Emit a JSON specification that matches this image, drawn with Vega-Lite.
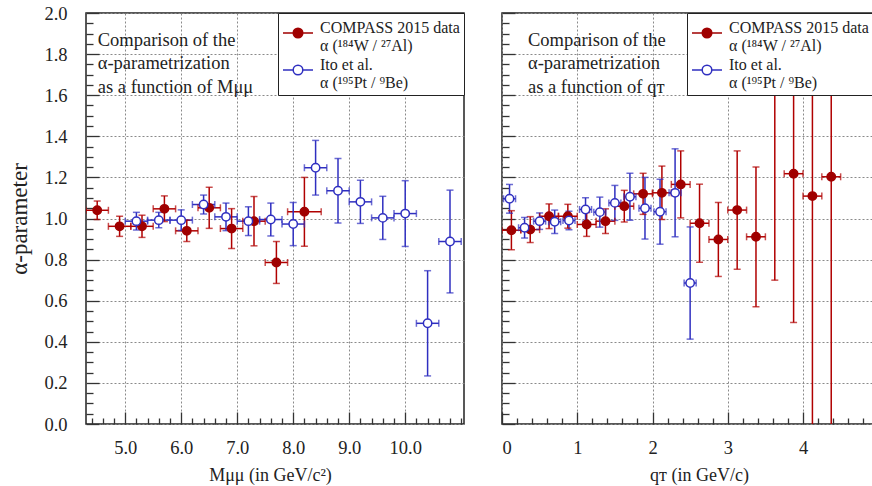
{
  "$schema": "https://vega.github.io/schema/vega-lite/v6.json",
  "padding": {"left": 8, "top": 3, "right": 0, "bottom": 0},
  "background": "white",
  "config": {
    "font": "Liberation Serif",
    "view": {"stroke": "#222222", "strokeWidth": 1.5},
    "concat": {"spacing": 34},
    "axis": {
      "domain": false,
      "labelFont": "Liberation Serif",
      "labelFontSize": 18.5,
      "labelColor": "#222222",
      "titleFont": "Liberation Serif",
      "titleFontWeight": "normal",
      "titleColor": "#222222",
      "tickColor": "#333333",
      "tickWidth": 1.3,
      "gridColor": "#8a8a8a",
      "gridDash": [2, 2],
      "gridWidth": 1
    }
  },
  "datasets": {
    "mass": [
      {"series": "COMPASS", "x": 4.5, "xlo": 4.3, "xhi": 4.7, "y": 1.04, "ylo": 0.995, "yhi": 1.085},
      {"series": "COMPASS", "x": 4.9, "xlo": 4.7, "xhi": 5.1, "y": 0.962, "ylo": 0.913, "yhi": 1.011},
      {"series": "COMPASS", "x": 5.3, "xlo": 5.1, "xhi": 5.5, "y": 0.962, "ylo": 0.908, "yhi": 1.016},
      {"series": "COMPASS", "x": 5.7, "xlo": 5.5, "xhi": 5.9, "y": 1.047, "ylo": 0.985, "yhi": 1.11},
      {"series": "COMPASS", "x": 6.1, "xlo": 5.9, "xhi": 6.3, "y": 0.94, "ylo": 0.888, "yhi": 0.992},
      {"series": "COMPASS", "x": 6.5, "xlo": 6.3, "xhi": 6.7, "y": 1.052, "ylo": 0.952, "yhi": 1.152},
      {"series": "COMPASS", "x": 6.9, "xlo": 6.7, "xhi": 7.1, "y": 0.951, "ylo": 0.854, "yhi": 1.048},
      {"series": "COMPASS", "x": 7.3, "xlo": 7.1, "xhi": 7.5, "y": 0.987, "ylo": 0.867, "yhi": 1.107},
      {"series": "COMPASS", "x": 7.7, "xlo": 7.5, "xhi": 7.9, "y": 0.786, "ylo": 0.684, "yhi": 0.888},
      {"series": "COMPASS", "x": 8.2, "xlo": 7.9, "xhi": 8.5, "y": 1.033, "ylo": 0.865, "yhi": 1.2},
      {"series": "Ito", "x": 5.2, "xlo": 5.0, "xhi": 5.4, "y": 0.987, "ylo": 0.944, "yhi": 1.03},
      {"series": "Ito", "x": 5.6, "xlo": 5.4, "xhi": 5.8, "y": 0.992, "ylo": 0.955, "yhi": 1.03},
      {"series": "Ito", "x": 6.0, "xlo": 5.8, "xhi": 6.2, "y": 0.992, "ylo": 0.942, "yhi": 1.042},
      {"series": "Ito", "x": 6.4, "xlo": 6.2, "xhi": 6.6, "y": 1.068, "ylo": 1.022, "yhi": 1.114},
      {"series": "Ito", "x": 6.8, "xlo": 6.6, "xhi": 7.0, "y": 1.008, "ylo": 0.941, "yhi": 1.075},
      {"series": "Ito", "x": 7.2, "xlo": 7.0, "xhi": 7.4, "y": 0.987, "ylo": 0.917, "yhi": 1.057},
      {"series": "Ito", "x": 7.6, "xlo": 7.4, "xhi": 7.8, "y": 0.995, "ylo": 0.915, "yhi": 1.075},
      {"series": "Ito", "x": 8.0, "xlo": 7.8, "xhi": 8.2, "y": 0.973, "ylo": 0.868, "yhi": 1.078},
      {"series": "Ito", "x": 8.4, "xlo": 8.2, "xhi": 8.6, "y": 1.247, "ylo": 1.114, "yhi": 1.38},
      {"series": "Ito", "x": 8.8, "xlo": 8.6, "xhi": 9.0, "y": 1.135, "ylo": 0.978, "yhi": 1.292},
      {"series": "Ito", "x": 9.2, "xlo": 9.0, "xhi": 9.4, "y": 1.081, "ylo": 0.976, "yhi": 1.186},
      {"series": "Ito", "x": 9.6, "xlo": 9.4, "xhi": 9.8, "y": 1.003, "ylo": 0.898, "yhi": 1.108},
      {"series": "Ito", "x": 10.0, "xlo": 9.8, "xhi": 10.2, "y": 1.024, "ylo": 0.864, "yhi": 1.184},
      {"series": "Ito", "x": 10.4, "xlo": 10.2, "xhi": 10.6, "y": 0.49, "ylo": 0.234, "yhi": 0.746},
      {"series": "Ito", "x": 10.8, "xlo": 10.6, "xhi": 11.0, "y": 0.888, "ylo": 0.638, "yhi": 1.138}
    ],
    "qt": [
      {"series": "COMPASS", "x": 0.125, "xlo": 0.0, "xhi": 0.25, "y": 0.943, "ylo": 0.848, "yhi": 1.038},
      {"series": "COMPASS", "x": 0.375, "xlo": 0.25, "xhi": 0.5, "y": 0.946, "ylo": 0.883, "yhi": 1.009},
      {"series": "COMPASS", "x": 0.625, "xlo": 0.5, "xhi": 0.75, "y": 1.011, "ylo": 0.951, "yhi": 1.071},
      {"series": "COMPASS", "x": 0.875, "xlo": 0.75, "xhi": 1.0, "y": 1.011, "ylo": 0.953, "yhi": 1.069},
      {"series": "COMPASS", "x": 1.125, "xlo": 1.0, "xhi": 1.25, "y": 0.971, "ylo": 0.913, "yhi": 1.029},
      {"series": "COMPASS", "x": 1.375, "xlo": 1.25, "xhi": 1.5, "y": 0.987, "ylo": 0.927, "yhi": 1.047},
      {"series": "COMPASS", "x": 1.625, "xlo": 1.5, "xhi": 1.75, "y": 1.06, "ylo": 0.983, "yhi": 1.137},
      {"series": "COMPASS", "x": 1.875, "xlo": 1.75, "xhi": 2.0, "y": 1.12, "ylo": 1.02, "yhi": 1.22},
      {"series": "COMPASS", "x": 2.125, "xlo": 2.0, "xhi": 2.25, "y": 1.125, "ylo": 0.995, "yhi": 1.255},
      {"series": "COMPASS", "x": 2.375, "xlo": 2.25, "xhi": 2.5, "y": 1.166, "ylo": 1.003, "yhi": 1.329},
      {"series": "COMPASS", "x": 2.625, "xlo": 2.5, "xhi": 2.75, "y": 0.977, "ylo": 0.787, "yhi": 1.167},
      {"series": "COMPASS", "x": 2.875, "xlo": 2.75, "xhi": 3.0, "y": 0.898, "ylo": 0.718, "yhi": 1.078},
      {"series": "COMPASS", "x": 3.125, "xlo": 3.0, "xhi": 3.25, "y": 1.041, "ylo": 0.753, "yhi": 1.329},
      {"series": "COMPASS", "x": 3.375, "xlo": 3.25, "xhi": 3.5, "y": 0.911, "ylo": 0.571, "yhi": 1.251},
      {"series": "COMPASS", "x": 3.625, "xlo": 3.5, "xhi": 3.75, "y": 1.8, "ylo": 0.7, "yhi": 2.9},
      {"series": "COMPASS", "x": 3.875, "xlo": 3.75, "xhi": 4.0, "y": 1.218, "ylo": 0.494, "yhi": 1.942},
      {"series": "COMPASS", "x": 4.125, "xlo": 4.0, "xhi": 4.25, "y": 1.109, "ylo": -0.2, "yhi": 2.4},
      {"series": "COMPASS", "x": 4.375, "xlo": 4.25, "xhi": 4.5, "y": 1.203, "ylo": -0.2, "yhi": 2.6},
      {"series": "Ito", "x": 0.1, "xlo": 0.02, "xhi": 0.18, "y": 1.096, "ylo": 1.026, "yhi": 1.166},
      {"series": "Ito", "x": 0.3, "xlo": 0.22, "xhi": 0.38, "y": 0.955, "ylo": 0.905, "yhi": 1.005},
      {"series": "Ito", "x": 0.5, "xlo": 0.42, "xhi": 0.58, "y": 0.987, "ylo": 0.947, "yhi": 1.027},
      {"series": "Ito", "x": 0.7, "xlo": 0.62, "xhi": 0.78, "y": 0.984, "ylo": 0.927, "yhi": 1.041},
      {"series": "Ito", "x": 0.89, "xlo": 0.81, "xhi": 0.97, "y": 0.99, "ylo": 0.945, "yhi": 1.035},
      {"series": "Ito", "x": 1.11, "xlo": 1.03, "xhi": 1.19, "y": 1.044, "ylo": 0.987, "yhi": 1.101},
      {"series": "Ito", "x": 1.3, "xlo": 1.22, "xhi": 1.38, "y": 1.031, "ylo": 0.958, "yhi": 1.104},
      {"series": "Ito", "x": 1.5, "xlo": 1.42, "xhi": 1.58, "y": 1.076, "ylo": 0.991, "yhi": 1.161},
      {"series": "Ito", "x": 1.7, "xlo": 1.62, "xhi": 1.78, "y": 1.106, "ylo": 0.992, "yhi": 1.22},
      {"series": "Ito", "x": 1.9, "xlo": 1.82, "xhi": 1.98, "y": 1.05, "ylo": 0.9, "yhi": 1.2},
      {"series": "Ito", "x": 2.1, "xlo": 2.02, "xhi": 2.18, "y": 1.033, "ylo": 0.875, "yhi": 1.191},
      {"series": "Ito", "x": 2.3, "xlo": 2.22, "xhi": 2.38, "y": 1.125, "ylo": 0.911, "yhi": 1.339},
      {"series": "Ito", "x": 2.5, "xlo": 2.42, "xhi": 2.58, "y": 0.686, "ylo": 0.413, "yhi": 0.959}
    ]
  },
  "resolve": {"scale": {"color": "independent", "stroke": "independent", "fill": "independent"}},
  "hconcat": [
    {
      "width": 378,
      "height": 411,
      "data": {"name": "mass"},
      "resolve": {"axis": {"x": "independent", "y": "independent"}},
      "layer": [
        {
          "mark": {"type": "rule", "clip": true, "strokeWidth": 1.5},
          "encoding": {
            "x": {"field": "xlo", "type": "quantitative", "scale": {"domain": [4.3, 11.05], "nice": false, "zero": false},
              "axis": {"orient": "bottom", "values": [5, 6, 7, 8, 9, 10], "format": ".1f", "grid": true, "ticks": false, "labelPadding": 14, "title": "Mμμ (in GeV/c²)", "titleFontSize": 18, "titlePadding": 10, "titleX": 184}},
            "x2": {"field": "xhi"},
            "y": {"field": "y", "type": "quantitative", "scale": {"domain": [0, 2], "nice": false, "zero": false},
              "axis": {"orient": "left", "values": [0, 0.2, 0.4, 0.6, 0.8, 1.0, 1.2, 1.4, 1.6, 1.8, 2.0], "format": ".1f", "grid": true, "ticks": false, "labelPadding": 19, "title": "α-parameter", "titleFontSize": 23, "titlePadding": 12}},
            "color": {"field": "series", "type": "nominal", "scale": {"range": ["#b00000", "#2f2fc0"]}, "legend": null}
          }
        },
        {
          "mark": {"type": "rule", "clip": true, "strokeWidth": 1.5},
          "encoding": {
            "x": {"field": "x", "type": "quantitative",
              "axis": {"orient": "bottom", "values": [4.4, 4.6, 4.8, 5.2, 5.4, 5.6, 5.8, 6.2, 6.4, 6.6, 6.8, 7.2, 7.4, 7.6, 7.8, 8.2, 8.4, 8.6, 8.8, 9.2, 9.4, 9.6, 9.8, 10.2, 10.4, 10.6, 10.8, 11.0], "labels": false, "grid": false, "tickSize": -6, "title": null}},
            "y": {"field": "ylo", "type": "quantitative",
              "axis": {"orient": "left", "values": [0.05, 0.1, 0.15, 0.25, 0.3, 0.35, 0.45, 0.5, 0.55, 0.65, 0.7, 0.75, 0.85, 0.9, 0.95, 1.05, 1.1, 1.15, 1.25, 1.3, 1.35, 1.45, 1.5, 1.55, 1.65, 1.7, 1.75, 1.85, 1.9, 1.95], "labels": false, "grid": false, "tickSize": -7, "title": null}},
            "y2": {"field": "yhi"},
            "color": {"field": "series", "type": "nominal", "legend": null}
          }
        },
        {
          "mark": {"type": "tick", "clip": true, "orient": "horizontal", "size": 7, "thickness": 1.5},
          "encoding": {
            "x": {"field": "x", "type": "quantitative",
              "axis": {"orient": "bottom", "values": [5, 6, 7, 8, 9, 10], "labels": false, "grid": false, "tickSize": -12, "title": null}},
            "y": {"field": "ylo", "type": "quantitative",
              "axis": {"orient": "left", "values": [0, 0.2, 0.4, 0.6, 0.8, 1.0, 1.2, 1.4, 1.6, 1.8, 2.0], "labels": false, "grid": false, "tickSize": -13, "title": null}},
            "color": {"field": "series", "type": "nominal", "legend": null}
          }
        },
        {
          "mark": {"type": "tick", "clip": true, "orient": "horizontal", "size": 7, "thickness": 1.5},
          "encoding": {
            "x": {"field": "x", "type": "quantitative", "axis": null},
            "y": {"field": "yhi", "type": "quantitative", "axis": null},
            "color": {"field": "series", "type": "nominal", "legend": null}
          }
        },
        {
          "mark": {"type": "tick", "clip": true, "orient": "vertical", "size": 7, "thickness": 1.5},
          "encoding": {
            "x": {"field": "xlo", "type": "quantitative", "axis": null},
            "y": {"field": "y", "type": "quantitative", "axis": null},
            "color": {"field": "series", "type": "nominal", "legend": null}
          }
        },
        {
          "mark": {"type": "tick", "clip": true, "orient": "vertical", "size": 7, "thickness": 1.5},
          "encoding": {
            "x": {"field": "xhi", "type": "quantitative", "axis": null},
            "y": {"field": "y", "type": "quantitative", "axis": null},
            "color": {"field": "series", "type": "nominal", "legend": null}
          }
        },
        {
          "mark": {"type": "point", "shape": "circle", "filled": true, "size": 70, "strokeWidth": 1.5, "opacity": 1, "clip": true},
          "encoding": {
            "x": {"field": "x", "type": "quantitative", "axis": null},
            "y": {"field": "y", "type": "quantitative", "axis": null},
            "fill": {"field": "series", "type": "nominal", "scale": {"domain": ["COMPASS", "Ito"], "range": ["#a00000", "white"]},
              "legend": {"title": null, "orient": "top-right", "offset": 0, "fillColor": "white", "strokeColor": "#222222", "padding": 4, "cornerRadius": 0,
                "labelFont": "Liberation Serif", "labelFontSize": 16, "labelColor": "#222222", "labelLimit": 0, "labelOffset": 6, "labelBaseline": "alphabetic",
                "symbolType": "M-1,0H-0.32M0.32,0H1M-0.32,0A0.32,0.32 0 1,1 0.32,0A0.32,0.32 0 1,1 -0.32,0Z", "symbolSize": 900, "symbolStrokeWidth": 1.5, "rowPadding": 0,
                "labelExpr": "datum.value == 'COMPASS' ? ['COMPASS 2015 data', 'α (¹⁸⁴W / ²⁷Al)'] : ['Ito et al.', 'α (¹⁹⁵Pt / ⁹Be)']"
              }
            },
            "stroke": {"field": "series", "type": "nominal", "scale": {"domain": ["COMPASS", "Ito"], "range": ["#a00000", "#2f2fc0"]},
              "legend": {"title": null, "orient": "top-right", "offset": 0, "fillColor": "white", "strokeColor": "#222222", "padding": 4, "cornerRadius": 0,
                "labelFont": "Liberation Serif", "labelFontSize": 16, "labelColor": "#222222", "labelLimit": 0, "labelOffset": 6, "labelBaseline": "alphabetic",
                "symbolType": "M-1,0H-0.32M0.32,0H1M-0.32,0A0.32,0.32 0 1,1 0.32,0A0.32,0.32 0 1,1 -0.32,0Z", "symbolSize": 900, "symbolStrokeWidth": 1.5, "rowPadding": 0,
                "labelExpr": "datum.value == 'COMPASS' ? ['COMPASS 2015 data', 'α (¹⁸⁴W / ²⁷Al)'] : ['Ito et al.', 'α (¹⁹⁵Pt / ⁹Be)']"
              }
            }
          }
        },
        {
          "data": {"values": [{"note": "description"}]},
          "mark": {"type": "text", "align": "left", "baseline": "alphabetic", "font": "Liberation Serif", "fontSize": 18.5, "lineHeight": 23.5, "color": "#222222"},
          "encoding": {
            "x": {"datum": 4.51, "type": "quantitative", "axis": null},
            "y": {"datum": 1.84, "type": "quantitative", "axis": null},
            "text": {"value": ["Comparison of the", "α-parametrization", "as a function of Mμμ"]}
          }
        }
      ]
    },
    {
      "width": 371,
      "height": 411,
      "data": {"name": "qt"},
      "resolve": {"axis": {"x": "independent", "y": "independent"}},
      "layer": [
        {
          "mark": {"type": "rule", "clip": true, "strokeWidth": 1.5},
          "encoding": {
            "x": {"field": "xlo", "type": "quantitative", "scale": {"domain": [0, 4.93], "nice": false, "zero": false},
              "axis": {"orient": "bottom", "values": [0, 1, 2, 3, 4], "format": "d", "grid": true, "ticks": false, "labelPadding": 14, "title": "qᴛ (in GeV/c)", "titleFontSize": 18, "titlePadding": 10, "titleX": 197}},
            "x2": {"field": "xhi"},
            "y": {"field": "y", "type": "quantitative", "scale": {"domain": [0, 2], "nice": false, "zero": false},
              "axis": {"orient": "left", "values": [0, 0.2, 0.4, 0.6, 0.8, 1.0, 1.2, 1.4, 1.6, 1.8, 2.0], "labels": false, "grid": true, "tickSize": -13, "title": null}},
            "color": {"field": "series", "type": "nominal", "scale": {"range": ["#b00000", "#2f2fc0"]}, "legend": null}
          }
        },
        {
          "mark": {"type": "rule", "clip": true, "strokeWidth": 1.5},
          "encoding": {
            "x": {"field": "x", "type": "quantitative",
              "axis": {"orient": "bottom", "values": [0.2, 0.4, 0.6, 0.8, 1.2, 1.4, 1.6, 1.8, 2.2, 2.4, 2.6, 2.8, 3.2, 3.4, 3.6, 3.8, 4.2, 4.4, 4.6, 4.8], "labels": false, "grid": false, "tickSize": -6, "title": null}},
            "y": {"field": "ylo", "type": "quantitative",
              "axis": {"orient": "left", "values": [0.05, 0.1, 0.15, 0.25, 0.3, 0.35, 0.45, 0.5, 0.55, 0.65, 0.7, 0.75, 0.85, 0.9, 0.95, 1.05, 1.1, 1.15, 1.25, 1.3, 1.35, 1.45, 1.5, 1.55, 1.65, 1.7, 1.75, 1.85, 1.9, 1.95], "labels": false, "grid": false, "tickSize": -7, "title": null}},
            "y2": {"field": "yhi"},
            "color": {"field": "series", "type": "nominal", "legend": null}
          }
        },
        {
          "mark": {"type": "tick", "clip": true, "orient": "horizontal", "size": 7, "thickness": 1.5},
          "encoding": {
            "x": {"field": "x", "type": "quantitative",
              "axis": {"orient": "bottom", "values": [0, 1, 2, 3, 4], "labels": false, "grid": false, "tickSize": -12, "title": null}},
            "y": {"field": "ylo", "type": "quantitative", "axis": null},
            "color": {"field": "series", "type": "nominal", "legend": null}
          }
        },
        {
          "mark": {"type": "tick", "clip": true, "orient": "horizontal", "size": 7, "thickness": 1.5},
          "encoding": {
            "x": {"field": "x", "type": "quantitative", "axis": null},
            "y": {"field": "yhi", "type": "quantitative", "axis": null},
            "color": {"field": "series", "type": "nominal", "legend": null}
          }
        },
        {
          "mark": {"type": "tick", "clip": true, "orient": "vertical", "size": 7, "thickness": 1.5},
          "encoding": {
            "x": {"field": "xlo", "type": "quantitative", "axis": null},
            "y": {"field": "y", "type": "quantitative", "axis": null},
            "color": {"field": "series", "type": "nominal", "legend": null}
          }
        },
        {
          "mark": {"type": "tick", "clip": true, "orient": "vertical", "size": 7, "thickness": 1.5},
          "encoding": {
            "x": {"field": "xhi", "type": "quantitative", "axis": null},
            "y": {"field": "y", "type": "quantitative", "axis": null},
            "color": {"field": "series", "type": "nominal", "legend": null}
          }
        },
        {
          "mark": {"type": "point", "shape": "circle", "filled": true, "size": 70, "strokeWidth": 1.5, "opacity": 1, "clip": true},
          "encoding": {
            "x": {"field": "x", "type": "quantitative", "axis": null},
            "y": {"field": "y", "type": "quantitative", "axis": null},
            "fill": {"field": "series", "type": "nominal", "scale": {"domain": ["COMPASS", "Ito"], "range": ["#a00000", "white"]},
              "legend": {"title": null, "orient": "top-right", "offset": 0, "fillColor": "white", "strokeColor": "#222222", "padding": 4, "cornerRadius": 0,
                "labelFont": "Liberation Serif", "labelFontSize": 16, "labelColor": "#222222", "labelLimit": 0, "labelOffset": 6, "labelBaseline": "alphabetic",
                "symbolType": "M-1,0H-0.32M0.32,0H1M-0.32,0A0.32,0.32 0 1,1 0.32,0A0.32,0.32 0 1,1 -0.32,0Z", "symbolSize": 900, "symbolStrokeWidth": 1.5, "rowPadding": 0,
                "labelExpr": "datum.value == 'COMPASS' ? ['COMPASS 2015 data', 'α (¹⁸⁴W / ²⁷Al)'] : ['Ito et al.', 'α (¹⁹⁵Pt / ⁹Be)']"
              }
            },
            "stroke": {"field": "series", "type": "nominal", "scale": {"domain": ["COMPASS", "Ito"], "range": ["#a00000", "#2f2fc0"]},
              "legend": {"title": null, "orient": "top-right", "offset": 0, "fillColor": "white", "strokeColor": "#222222", "padding": 4, "cornerRadius": 0,
                "labelFont": "Liberation Serif", "labelFontSize": 16, "labelColor": "#222222", "labelLimit": 0, "labelOffset": 6, "labelBaseline": "alphabetic",
                "symbolType": "M-1,0H-0.32M0.32,0H1M-0.32,0A0.32,0.32 0 1,1 0.32,0A0.32,0.32 0 1,1 -0.32,0Z", "symbolSize": 900, "symbolStrokeWidth": 1.5, "rowPadding": 0,
                "labelExpr": "datum.value == 'COMPASS' ? ['COMPASS 2015 data', 'α (¹⁸⁴W / ²⁷Al)'] : ['Ito et al.', 'α (¹⁹⁵Pt / ⁹Be)']"
              }
            }
          }
        },
        {
          "data": {"values": [{"note": "description"}]},
          "mark": {"type": "text", "align": "left", "baseline": "alphabetic", "font": "Liberation Serif", "fontSize": 18.5, "lineHeight": 23.5, "color": "#222222"},
          "encoding": {
            "x": {"datum": 0.345, "type": "quantitative", "axis": null},
            "y": {"datum": 1.84, "type": "quantitative", "axis": null},
            "text": {"value": ["Comparison of the", "α-parametrization", "as a function of qᴛ"]}
          }
        }
      ]
    }
  ]
}
